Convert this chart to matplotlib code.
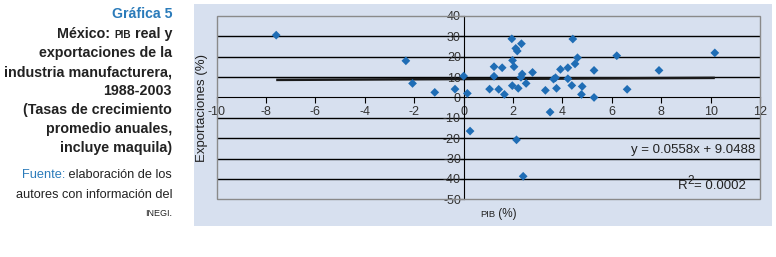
import matplotlib
matplotlib.use('Agg')
import matplotlib.pyplot as plt
from matplotlib.patches import Rectangle

# crecimiento promedio anual (%), 1988-2003
pib = [-7.59, -2.34, -2.07, -1.17, -0.35, 0.0, 0.15, 0.26, 1.05, 1.23, 1.23, 1.42,
       1.56, 1.65, 1.95, 1.98, 2.04, 1.97, 2.11, 2.17, 2.34, 2.21, 2.37, 2.32,
       2.53, 2.79, 2.14, 2.41, 3.31, 3.50, 3.64, 3.72, 3.76, 3.92, 4.22, 4.22,
       4.38, 4.42, 4.51, 4.61, 4.80, 4.77, 5.28, 5.28, 6.20, 6.62, 7.91, 10.17]
exportaciones = [30.6, 18.0, 6.9, 2.5, 4.1, 10.5, 2.0, -16.5, 4.1, 15.1, 10.4, 4.0,
                 14.6, 1.5, 28.8, 18.2, 15.1, 5.8, 24.1, 22.8, 26.4, 4.5, 11.5, 9.9,
                 6.9, 12.3, -20.8, -38.7, 3.5, -7.2, 9.0, 9.7, 4.5, 13.8, 14.6, 9.2,
                 5.9, 28.7, 16.5, 19.5, 5.4, 1.5, 13.3, 0.0, 20.5, 4.0, 13.3, 21.9]
pendiente = 0.0558
ordenada = 9.0488
r2 = 0.0002
xticks = list(range(-10, 13, 2))
yticks = list(range(-50, 41, 10))

plt.rcParams['font.family'] = ['Liberation Sans', 'DejaVu Sans']
plt.rcParams['axes.unicode_minus'] = False

W, H = 776, 257
fig = plt.figure(figsize=(W / 100, H / 100), dpi=100)
fig.patch.set_facecolor('white')

bg = '#D7E0EF'
azul = '#2B7BBA'
oscuro = '#222222'

# panel de fondo
fig.patches.append(Rectangle((194 / W, 1 - 226 / H), (772 - 194) / W, (226 - 4) / H,
                             transform=fig.transFigure, facecolor=bg, edgecolor='none', zorder=-5))

ax = fig.add_axes([216.7 / W, 1 - 199.3 / H, (760 - 216.7) / W, (199.3 - 16) / H])
ax.set_zorder(2)
ax.set_facecolor(bg)
ax.set_xlim(-10, 12)
ax.set_ylim(-50, 40)

for s in ['top', 'right']:
    ax.spines[s].set_visible(False)
ax.spines['left'].set_position(('data', 0))
ax.spines['bottom'].set_position(('data', 0))
ax.spines['left'].set_color('black')
ax.spines['bottom'].set_color('black')
ax.add_patch(Rectangle((0, 0), 1, 1, transform=ax.transAxes, fill=False,
                       edgecolor='#8a8a8a', lw=1.0, zorder=3, clip_on=False))

for y in yticks:
    if y not in (0, -50, 40):
        ax.axhline(y, color='black', lw=1.0, zorder=1)

ax.set_xticks(xticks)
ax.set_yticks(yticks)
ax.tick_params(axis='x', direction='out', length=4, width=0.8, pad=2.5,
               labelsize=9, labelcolor='#333333')
ax.tick_params(axis='y', direction='out', length=3, width=0.8, pad=-1,
               labelsize=9, labelcolor='#333333')

# tendencia lineal
x0, x1 = min(pib), max(pib)
ax.plot([x0, x1], [pendiente * x0 + ordenada, pendiente * x1 + ordenada],
        color='#1a1a1a', lw=1.8, zorder=2, solid_capstyle='butt')

ax.scatter(pib, exportaciones, marker='D', s=20, color='#1F6DB5', edgecolors='none', zorder=4)

ax.text(0.991, 0.27, f'y = {pendiente}x + {ordenada}', transform=ax.transAxes,
        ha='right', va='center', fontsize=9.5, color=oscuro)

fig.text(202 / W, 1 - 108 / H, 'Exportaciones (%)', rotation=90, ha='center', va='center',
         fontsize=9.5, color=oscuro)

renderer = fig.canvas.get_renderer()


def linea(partes, xr, yb):
    # partes de derecha a izquierda, alineadas a la derecha en xr (px) y base yb (px)
    # cada parte: (texto, tamaño, peso, color, desplazamiento vertical px)
    x = xr
    for txt, size, weight, color, dy in reversed(partes):
        t = fig.text(x / W, 1 - (yb - dy) / H, txt, ha='right', va='baseline',
                     fontsize=size, fontweight=weight, color=color)
        x -= t.get_window_extent(renderer).width


# R cuadrada, con el 2 grande como en Excel
linea([('R', 9.5, 'normal', oscuro, 0), ('2', 8.5, 'normal', oscuro, 5),
       ('= {:.4f}'.format(r2), 9.5, 'normal', oscuro, 0)], 746, 189)

fs = 10.3
fn = 9.2
linea([('Gráfica 5', 10.2, 'bold', azul, 0)], 172, 18)
linea([('México: ', fs, 'bold', oscuro, 0), ('PIB', 7.2, 'bold', oscuro, 0),
       (' real y', fs, 'bold', oscuro, 0)], 172, 38)
linea([('exportaciones de la', fs, 'bold', oscuro, 0)], 172, 57)
linea([('industria manufacturera,', fs, 'bold', oscuro, 0)], 172, 76)
linea([('1988-2003', fs, 'bold', oscuro, 0)], 172, 95)
linea([('(Tasas de crecimiento', fs, 'bold', oscuro, 0)], 172, 114)
linea([('promedio anuales,', fs, 'bold', oscuro, 0)], 172, 133)
linea([('incluye maquila)', fs, 'bold', oscuro, 0)], 172, 152)
linea([('Fuente:', fn, 'normal', azul, 0), (' elaboración de los', fn, 'normal', oscuro, 0)], 172, 178)
linea([('autores con información del', fn, 'normal', oscuro, 0)], 172, 198)
linea([('INEGI.', 6.5, 'normal', oscuro, 0)], 172, 216)

# etiqueta del eje x
t1 = fig.text(480 / W, 1 - 217 / H, 'PIB', ha='left', va='baseline', fontsize=6.8, color=oscuro)
xb = 480 + t1.get_window_extent(renderer).width
fig.text(xb / W, 1 - 217 / H, ' (%)', ha='left', va='baseline', fontsize=8.5, color=oscuro)

fig.savefig('out.png', dpi=100, facecolor='white')
